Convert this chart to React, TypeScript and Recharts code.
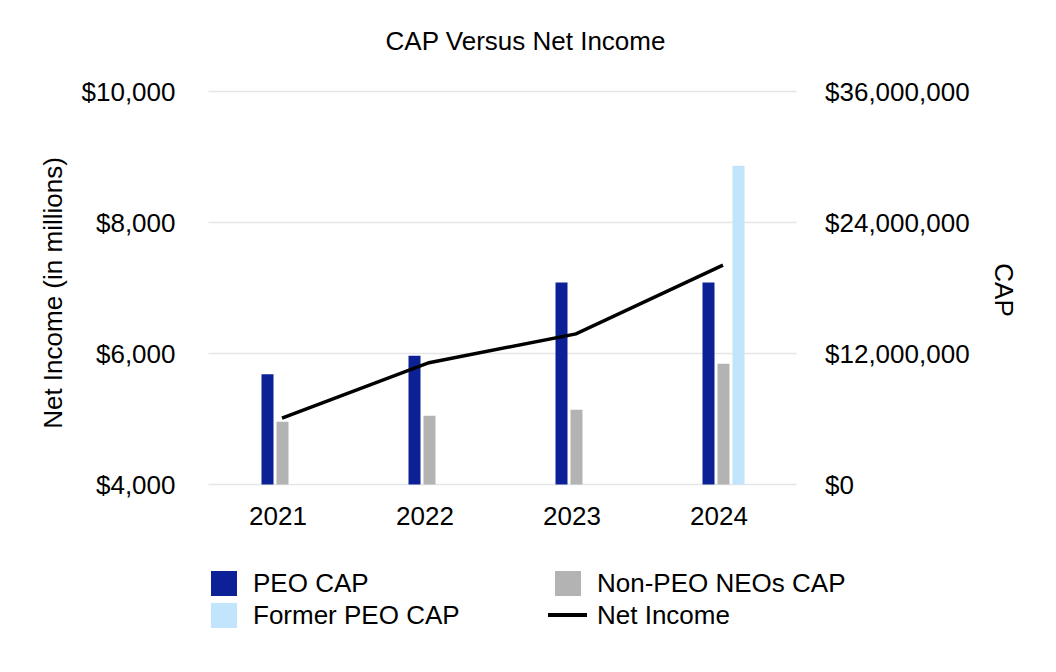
import React from "react";
import {
  ComposedChart,
  Bar,
  Line,
  XAxis,
  YAxis,
  CartesianGrid,
} from "recharts";

const years = ["2021", "2022", "2023", "2024"];
const peoCap = [10100000, 11800000, 18500000, 18500000];
const nonPeoCap = [5750000, 6300000, 6850000, 11050000];
const formerPeoCap: (number | null)[] = [null, null, null, 29200000];
const netIncome = [5015, 5860, 6300, 7350];

const netIncomeTicks = [4000, 6000, 8000, 10000];
const capTicks = [0, 12000000, 24000000, 36000000];

const FONT = "'Liberation Sans', Arial, sans-serif";
const COLORS = {
  peo: "#0c2196",
  nonPeo: "#b3b3b3",
  former: "#c2e4fc",
  line: "#000000",
  grid: "#e6e6e6",
};

const data = years.map((year, i) => ({
  year,
  peo: peoCap[i],
  nonPeo: nonPeoCap[i],
  former: formerPeoCap[i],
  ni: netIncome[i],
}));

const money = (v: number) => `$${v.toLocaleString("en-US")}`;

const tickStyle = { fontSize: 26, fill: "#000", fontFamily: FONT };

function LeftLabel(props: any) {
  const vb = props.viewBox || {};
  const x = vb.x + 45;
  const y = vb.y + vb.height / 2 + 5;
  return (
    <text
      x={x}
      y={y}
      transform={`rotate(-90 ${x} ${y})`}
      textAnchor="middle"
      dominantBaseline="central"
      fontSize={26}
      fontFamily={FONT}
      fill="#000"
    >
      Net Income (in millions)
    </text>
  );
}

function RightLabel(props: any) {
  const vb = props.viewBox || {};
  const x = vb.x + 207.5;
  const y = vb.y + vb.height / 2 + 2;
  return (
    <text
      x={x}
      y={y}
      transform={`rotate(90 ${x} ${y})`}
      textAnchor="middle"
      dominantBaseline="central"
      fontSize={26}
      fontFamily={FONT}
      fill="#000"
    >
      CAP
    </text>
  );
}

const legendItems = [
  { label: "PEO CAP", color: COLORS.peo, kind: "box", x: 203, y: 575 },
  { label: "Non-PEO NEOs CAP", color: COLORS.nonPeo, kind: "box", x: 547, y: 575 },
  { label: "Former PEO CAP", color: COLORS.former, kind: "box", x: 203, y: 607 },
  { label: "Net Income", color: COLORS.line, kind: "line", x: 540, y: 607 },
];

export default function App() {
  return (
    <div
      style={{
        position: "relative",
        width: 1040,
        height: 656,
        fontFamily: FONT,
        background: "#fff",
      }}
    >
      <div
        style={{
          position: "absolute",
          left: 0,
          width: 1035,
          top: 18,
          textAlign: "center",
          fontSize: 26,
          lineHeight: "30px",
          color: "#000",
        }}
      >
        CAP Versus Net Income
      </div>

      <ComposedChart
        width={1040}
        height={656}
        data={data}
        margin={{ top: 83.5, right: 0, bottom: 139.5, left: 0 }}
        barGap={3}
        barSize={12}
      >
        <CartesianGrid
          vertical={false}
          stroke={COLORS.grid}
          strokeWidth={1.5}
          yAxisId="ni"
        />
        <XAxis
          dataKey="year"
          height={40}
          axisLine={false}
          tickLine={false}
          tickSize={0}
          tickMargin={22}
          tick={{ ...tickStyle, dx: -4 }}
          interval={0}
        />
        <YAxis
          yAxisId="ni"
          orientation="left"
          width={200.5}
          domain={[4000, 10000]}
          ticks={netIncomeTicks}
          tickFormatter={money}
          axisLine={false}
          tickLine={false}
          tickSize={0}
          tickMargin={33}
          tick={tickStyle}
          label={<LeftLabel />}
        />
        <YAxis
          yAxisId="cap"
          orientation="right"
          width={251.5}
          domain={[0, 36000000]}
          ticks={capTicks}
          tickFormatter={money}
          axisLine={false}
          tickLine={false}
          tickSize={0}
          tickMargin={28.5}
          tick={{ ...tickStyle, textAnchor: "start" }}
          label={<RightLabel />}
        />
        <Bar
          yAxisId="cap"
          dataKey="peo"
          name="PEO CAP"
          fill={COLORS.peo}
          isAnimationActive={false}
        />
        <Bar
          yAxisId="cap"
          dataKey="nonPeo"
          name="Non-PEO NEOs CAP"
          fill={COLORS.nonPeo}
          isAnimationActive={false}
        />
        <Bar
          yAxisId="cap"
          dataKey="former"
          name="Former PEO CAP"
          fill={COLORS.former}
          isAnimationActive={false}
        />
        <Line
          yAxisId="ni"
          type="linear"
          dataKey="ni"
          name="Net Income"
          stroke={COLORS.line}
          strokeWidth={3.5}
          dot={false}
          activeDot={false}
          isAnimationActive={false}
        />
      </ComposedChart>

      {legendItems.map((item) => (
        <div
          key={item.label}
          style={{
            position: "absolute",
            left: item.x,
            top: item.y - 15,
            height: 30,
            display: "flex",
            alignItems: "center",
            fontSize: 26,
            color: "#000",
            whiteSpace: "nowrap",
          }}
        >
          {item.kind === "box" ? (
            <span
              style={{
                display: "inline-block",
                width: 26,
                height: 25,
                background: item.color,
                marginRight: 16,
              }}
            />
          ) : (
            <span
              style={{
                display: "inline-block",
                width: 39,
                height: 4,
                background: item.color,
                marginRight: 10,
              }}
            />
          )}
          <span>{item.label}</span>
        </div>
      ))}
    </div>
  );
}
